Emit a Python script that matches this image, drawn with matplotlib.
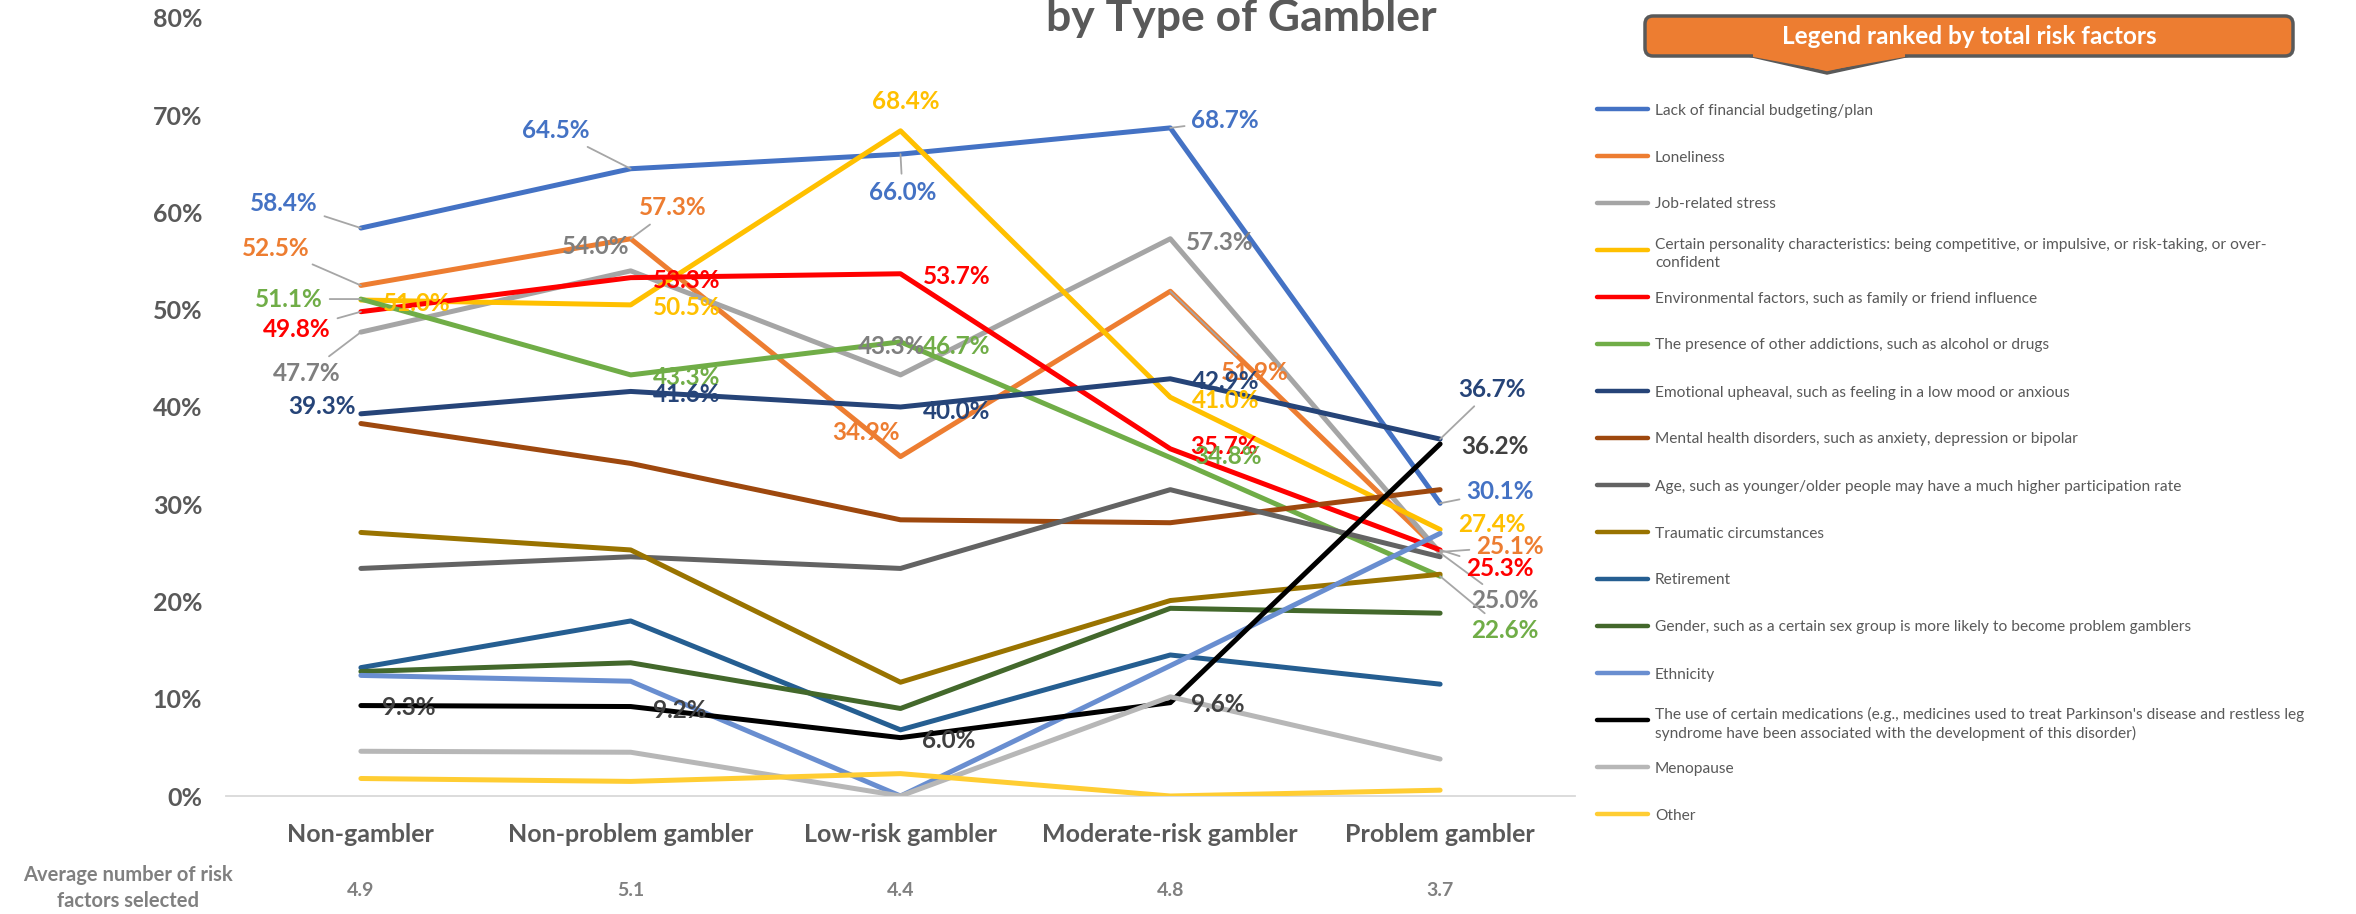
import matplotlib
matplotlib.use("Agg")
import matplotlib.pyplot as plt
from matplotlib.lines import Line2D
from matplotlib.patches import FancyBboxPatch, Polygon
from matplotlib.transforms import IdentityTransform
from matplotlib.ticker import FuncFormatter

plt.rcParams["font.family"] = ["Lato", "DejaVu Sans"]

W, H = 2356, 914

categories = ["Non-gambler", "Non-problem gambler", "Low-risk gambler",
              "Moderate-risk gambler", "Problem gambler"]
avg_factors = ["4.9", "5.1", "4.4", "4.8", "3.7"]

factor_names = [
    "Lack of financial budgeting/plan",
    "Loneliness",
    "Job-related stress",
    "Certain personality characteristics: being competitive, or impulsive, or risk-taking, or over-\nconfident",
    "Environmental factors, such as family or friend influence",
    "The presence of other addictions, such as alcohol or drugs",
    "Emotional upheaval, such as feeling in a low mood or anxious",
    "Mental health disorders, such as anxiety, depression or bipolar",
    "Age, such as younger/older people may have a much higher participation rate",
    "Traumatic circumstances",
    "Retirement",
    "Gender, such as a certain sex group is more likely to become problem gamblers",
    "Ethnicity",
    "The use of certain medications (e.g., medicines used to treat Parkinson's disease and restless leg\nsyndrome have been associated with the development of this disorder)",
    "Menopause",
    "Other",
]

budgeting = [58.4, 64.5, 66.0, 68.7, 30.1]
loneliness = [52.5, 57.3, 34.9, 51.9, 25.1]
job_stress = [47.7, 54.0, 43.3, 57.3, 25.0]
personality = [51.0, 50.5, 68.4, 41.0, 27.4]
environmental = [49.8, 53.3, 53.7, 35.7, 25.3]
addictions = [51.1, 43.3, 46.7, 34.8, 22.6]
emotional = [39.3, 41.6, 40.0, 42.9, 36.7]
mental_health = [38.3, 34.2, 28.4, 28.1, 31.5]
age = [23.4, 24.6, 23.4, 31.5, 24.6]
traumatic = [27.1, 25.3, 11.7, 20.1, 22.8]
retirement = [13.2, 18.0, 6.8, 14.5, 11.5]
gender = [12.8, 13.7, 9.0, 19.3, 18.8]
ethnicity = [12.4, 11.8, 0.0, 13.4, 27.0]
medications = [9.3, 9.2, 6.0, 9.6, 36.2]
menopause = [4.6, 4.5, 0.0, 10.2, 3.8]
other = [1.8, 1.5, 2.3, 0.0, 0.6]

series = [budgeting, loneliness, job_stress, personality, environmental, addictions,
          emotional, mental_health, age, traumatic, retirement, gender, ethnicity,
          medications, menopause, other]

colors = ["#4472C4", "#ED7D31", "#A5A5A5", "#FFC000", "#FF0000", "#70AD47",
          "#264478", "#9E480E", "#636363", "#997300", "#255E91", "#43682B",
          "#698ED0", "#000000", "#B7B7B7", "#FFCD33"]

label_colors = {0: "#4472C4", 1: "#ED7D31", 2: "#7F7F7F", 3: "#FFC000", 4: "#FF0000",
                5: "#70AD47", 6: "#264478", 13: "#404040"}

# data label offsets in pixels from the point (dx, dy up), and whether a leader line is drawn
label_pos = {
    0: [(-77, 25, True), (-75, 38, True), (2, -38, True), (55, 7, True), (60, 12, True)],
    1: [(-85, 37, True), (42, 31, True), (-35, 24, False), (84, -81, True), (70, 5, True)],
    2: [(-54, -41, True), (-35, 24, False), (-9, 28, False), (49, -4, False), (65, -48, True)],
    3: [(56, -3, False), (56, -3, False), (5, 29, False), (55, -3, False), (52, 5, False)],
    4: [(-64, -18, True), (56, -3, False), (56, -3, False), (54, 2, False), (60, -19, True)],
    5: [(-72, 0, True), (56, -3, False), (56, -5, False), (58, 1, False), (65, -54, True)],
    6: [(-39, 7, False), (56, -3, False), (56, -5, False), (55, -3, False), (52, 50, True)],
    13: [(48, -2, False), (49, -4, False), (48, -3, False), (47, -2, False), (55, -3, False)],
}

fig = plt.figure(figsize=(W / 100, H / 100), dpi=100)
ax = fig.add_axes([226 / W, 1 - 796 / H, 1349 / W, 778 / H])

x = list(range(len(categories)))
for i, vals in enumerate(series):
    ax.plot(x, vals, color=colors[i], lw=3.6, solid_joinstyle="round",
            solid_capstyle="round", zorder=2 + i * 0.1)

for i, offs in label_pos.items():
    for j, (dx, dy, leader) in enumerate(offs):
        v = series[i][j]
        props = None
        if leader:
            props = dict(arrowstyle="-", color="#A6A6A6", lw=1.3, shrinkA=3, shrinkB=0)
        ax.annotate(f"{v:.1f}%", xy=(j, v), xytext=(dx, dy), textcoords="offset pixels",
                    ha="center", va="center", fontsize=17.5, fontweight="bold",
                    color=label_colors[i], arrowprops=props, zorder=20)

ax.set_xlim(-0.5, 4.5)
ax.set_ylim(0, 80)
ax.set_yticks(range(0, 81, 10))
ax.yaxis.set_major_formatter(FuncFormatter(lambda v, p: f"{v:.0f}%"))
ax.tick_params(axis="y", length=0, pad=17, labelsize=18, labelcolor="#595959")
for t in ax.get_yticklabels():
    t.set_fontweight("bold")
ax.set_xticks([])
for s in ["top", "right", "left"]:
    ax.spines[s].set_visible(False)
ax.spines["bottom"].set_color("#D9D9D9")
ax.spines["bottom"].set_linewidth(1.3)

for j, cat in enumerate(categories):
    ax.annotate(cat, xy=(j, 0), xycoords=("data", "axes fraction"), xytext=(0, -39),
                textcoords="offset pixels", ha="center", va="center", fontsize=18,
                fontweight="bold", color="#595959", annotation_clip=False)
    ax.annotate(avg_factors[j], xy=(j, 0), xycoords=("data", "axes fraction"),
                xytext=(0, -94), textcoords="offset pixels", ha="center", va="center",
                fontsize=14, fontweight="bold", color="#808080", annotation_clip=False)

fig.text(128 / W, 1 - 888 / H, "Average number of risk\nfactors selected", ha="center",
         va="center", fontsize=14.5, fontweight="bold", color="#808080", linespacing=1.35)

fig.text(1241 / W, 1 - 31 / H, "by Type of Gambler", ha="center", va="baseline",
         fontsize=32, fontweight="bold", color="#595959")

# legend header callout
idt = IdentityTransform()
pointer = Polygon([(1748, H - 55), (1827, H - 73), (1910, H - 55)], closed=True,
                  facecolor="#ED7D31", edgecolor="#595959", lw=2.5, transform=idt)
fig.add_artist(pointer)
box = FancyBboxPatch((1645, H - 56), 648, 40, boxstyle="round,pad=0,rounding_size=8",
                     facecolor="#ED7D31", edgecolor="#595959", lw=2.5, transform=idt)
fig.add_artist(box)
cover = Polygon([(1753, H - 50), (1905, H - 50), (1905, H - 57), (1827, H - 70.5),
                 (1753, H - 57)], closed=True, facecolor="#ED7D31", edgecolor="none",
                transform=idt)
fig.add_artist(cover)
fig.text(1969 / W, 1 - 36 / H, "Legend ranked by total risk factors", ha="center",
         va="center", fontsize=17.5, fontweight="bold", color="white")

for i, name in enumerate(factor_names):
    y = 1 - (109 + 47 * i) / H
    fig.add_artist(Line2D([1597 / W, 1648 / W], [y, y], color=colors[i], lw=3.2,
                          solid_capstyle="round", transform=fig.transFigure))
    fig.text(1655 / W, y, name, ha="left", va="center_baseline", fontsize=11.2,
             color="#595959", linespacing=1.4)

fig.savefig("out.png", dpi=100)
